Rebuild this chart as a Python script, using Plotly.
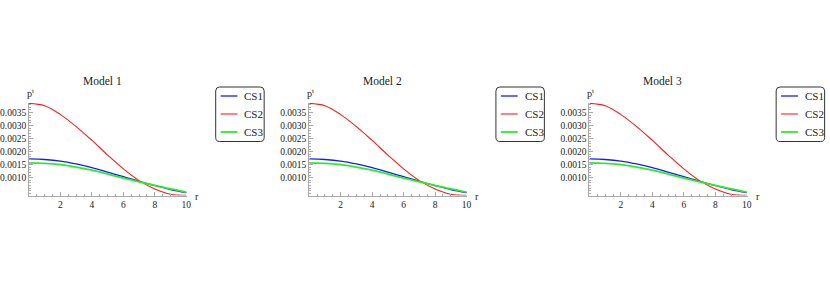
import plotly.graph_objects as go

# ---------------- data ----------------
r_vals = [0, 1, 2, 3, 4, 5, 6, 7, 8, 9, 10]
cs1 = [0.00172, 0.00170, 0.00164, 0.00153, 0.00139, 0.00122, 0.00104, 0.00086, 0.00070, 0.00055, 0.00043]
cs2 = [0.00385, 0.00376, 0.00342, 0.00296, 0.00243, 0.00187, 0.00134, 0.00089, 0.00057, 0.00037, 0.00033]
cs3 = [0.00157, 0.00155, 0.00150, 0.00141, 0.00129, 0.00114, 0.00099, 0.00084, 0.00071, 0.00057, 0.00045]
series_names = ["CS1", "CS2", "CS3"]
series_values = [cs1, cs2, cs3]
panel_titles = ["Model 1", "Model 2", "Model 3"]
x_ticks = [2, 4, 6, 8, 10]
y_ticks = [0.0010, 0.0015, 0.0020, 0.0025, 0.0030, 0.0035]
y_tick_text = ["0.0010", "0.0015", "0.0020", "0.0025", "0.0030", "0.0035"]

# ---------------- styling ----------------
W, H = 830, 286
colors = ["#1a1aff", "#ff1a1a", "#2aee2a"]
widths = [1.3, 1.1, 1.8]
FONT = "Liberation Serif"
AXC = "#aaaaaa"
TXT = "#222222"

panel_step = 283.3
x0_px = 24.3
px_per_unit = 15.9
xr = [0, 10.05]
yr = [0.00032, 0.00388]
y_bot_px = 195.5
y_top_px = 102.6


def P(x, y):
    return f"{x / W:.5f},{1 - y / H:.5f}"


fig = go.Figure()
shapes = []
annotations = []

for p in range(3):
    left = x0_px + panel_step * p
    right = left + px_per_unit * (xr[1] - xr[0])
    ax = "" if p == 0 else str(p + 1)
    xa = "x" + ax
    ya = "y" + ax
    for name, vals, c, w in zip(series_names, series_values, colors, widths):
        fig.add_trace(go.Scatter(x=r_vals, y=vals, mode="lines", name=name,
                                 line=dict(color=c, width=w, shape="spline", smoothing=1.0),
                                 xaxis=xa, yaxis=ya, showlegend=False, hoverinfo="skip"))
    fig.layout["xaxis" + ax] = dict(
        domain=[left / W, right / W], range=xr, anchor=ya,
        showgrid=False, zeroline=False, showline=True, linecolor=AXC, linewidth=1,
        ticks="inside", ticklen=4, tickcolor=AXC, tickwidth=1,
        tickvals=x_ticks, ticktext=[str(v) for v in x_ticks],
        tickfont=dict(family=FONT, size=9.5, color=TXT),
        minor=dict(dtick=0.5, tick0=0, ticks="inside", ticklen=2, tickcolor=AXC),
    )
    fig.layout["yaxis" + ax] = dict(
        domain=[1 - y_bot_px / H, 1 - y_top_px / H], range=yr, anchor=xa,
        showgrid=False, zeroline=False, showline=True, linecolor=AXC, linewidth=1,
        ticks="inside", ticklen=4, tickcolor=AXC, tickwidth=1,
        tickvals=y_ticks, ticktext=y_tick_text,
        tickfont=dict(family=FONT, size=9.5, color=TXT),
        minor=dict(dtick=0.0001, tick0=0, ticks="inside", ticklen=2, tickcolor=AXC),
    )
    # title
    annotations.append(dict(text=panel_titles[p], x=(left + 74) / W, y=1 - 81 / H,
                            xref="paper", yref="paper", showarrow=False,
                            xanchor="center", yanchor="middle",
                            font=dict(family=FONT, size=11.5, color=TXT)))
    # axis labels
    annotations.append(dict(text="p<sup>t</sup>", x=(left + 1) / W, y=1 - 92.5 / H,
                            xref="paper", yref="paper", showarrow=False,
                            xanchor="center", yanchor="middle",
                            font=dict(family=FONT, size=10, color=TXT)))
    annotations.append(dict(text="r", x=(left + 170) / W, y=1 - 196 / H,
                            xref="paper", yref="paper", showarrow=False,
                            xanchor="center", yanchor="middle",
                            font=dict(family=FONT, size=10, color=TXT)))
    # legend box (rounded)
    bx0, bx1 = 213 + panel_step * p, 262 + panel_step * p
    by0, by1 = 87, 141.5
    rr = 4
    ppath = (f"M{P(bx0+rr, by0)} L{P(bx1-rr, by0)} Q{P(bx1, by0)} {P(bx1, by0+rr)} "
             f"L{P(bx1, by1-rr)} Q{P(bx1, by1)} {P(bx1-rr, by1)} L{P(bx0+rr, by1)} "
             f"Q{P(bx0, by1)} {P(bx0, by1-rr)} L{P(bx0, by0+rr)} Q{P(bx0, by0)} {P(bx0+rr, by0)} Z")
    shapes.append(dict(type="path", xref="paper", yref="paper", path=ppath,
                       line=dict(color="#333333", width=1), fillcolor="white", layer="above"))
    for i, (name, c, w) in enumerate(zip(series_names, colors, widths)):
        yy = 96 + 18 * i
        shapes.append(dict(type="line", xref="paper", yref="paper",
                           x0=(218 + panel_step * p) / W, x1=(235 + panel_step * p) / W,
                           y0=1 - yy / H, y1=1 - yy / H,
                           line=dict(color=c, width=w), layer="above"))
        annotations.append(dict(text=name, x=(240 + panel_step * p) / W, y=1 - yy / H,
                                xref="paper", yref="paper", showarrow=False,
                                xanchor="left", yanchor="middle",
                                font=dict(family=FONT, size=11, color=TXT)))

fig.update_layout(width=W, height=H, margin=dict(l=0, r=0, t=0, b=0),
                  paper_bgcolor="white", plot_bgcolor="white",
                  showlegend=False, shapes=shapes, annotations=annotations)

fig.write_html("out.html", config={"displayModeBar": False},
               post_script="document.body.style.margin='0';document.body.style.overflow='hidden';")
